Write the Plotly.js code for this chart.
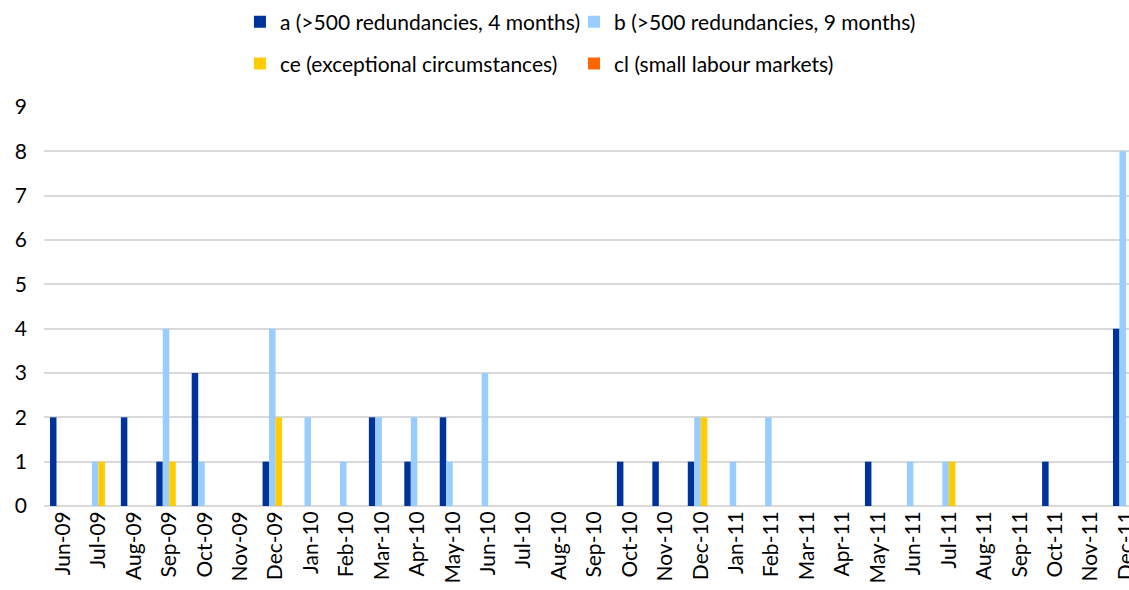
<!DOCTYPE html>
<html>
<head>
<meta charset="utf-8">
<script src="https://cdn.plot.ly/plotly-3.0.1.min.js"></script>
<style>html,body{margin:0;padding:0;background:#fff;}#chart{width:1129px;height:590px;}</style>
</head>
<body>
<div id="chart"></div>
<script>
var months = ["Jun-09","Jul-09","Aug-09","Sep-09","Oct-09","Nov-09","Dec-09","Jan-10","Feb-10","Mar-10","Apr-10","May-10","Jun-10","Jul-10","Aug-10","Sep-10","Oct-10","Nov-10","Dec-10","Jan-11","Feb-11","Mar-11","Apr-11","May-11","Jun-11","Jul-11","Aug-11","Sep-11","Oct-11","Nov-11","Dec-11"];
var seriesA  = [2,0,2,1,3,0,1,0,0,2,1,2,0,0,0,0,1,1,1,0,0,0,0,1,0,0,0,0,1,0,4];
var seriesB  = [0,1,0,4,1,0,4,2,1,2,2,1,3,0,0,0,0,0,2,1,2,0,0,0,1,1,0,0,0,0,8];
var seriesCE = [0,1,0,1,0,0,2,0,0,0,0,0,0,0,0,0,0,0,2,0,0,0,0,0,0,1,0,0,0,0,0];
var seriesCL = [0,0,0,0,0,0,0,0,0,0,0,0,0,0,0,0,0,0,0,0,0,0,0,0,0,0,0,0,0,0,0];
var names = ["a (>500 redundancies, 4 months)","b (>500 redundancies, 9 months)","ce (exceptional circumstances)","cl (small labour markets)"];
var colors = ["#003399","#99ccff","#ffcc00","#ff6600"];
var yTicks = [0,1,2,3,4,5,6,7,8,9];

var FONT = "Lato, 'Liberation Sans', sans-serif";
var vals = [seriesA, seriesB, seriesCE, seriesCL];
var legends = ["legend","legend2","legend3","legend4"];
var traces = vals.map(function(v,i){
  return {type:"bar", x:months, y:v, name:names[i], marker:{color:colors[i], line:{width:0}}, legend:legends[i], hoverinfo:"x+y+name"};
});

function leg(x, y){
  return {orientation:"h", x:x, xanchor:"left", y:y, yanchor:"middle", font:{size:21}, bgcolor:"rgba(0,0,0,0)", borderwidth:0};
}

var layout = {
  width:1129, height:590,
  margin:{l:44, r:0, t:107, b:84},
  paper_bgcolor:"#fff", plot_bgcolor:"#fff",
  font:{family:FONT, size:21, color:"#000"},
  barmode:"group", bargap:0.265, bargroupgap:0,
  xaxis:{type:"category", range:[-0.536, 30.085], tickangle:-90, showgrid:false, zeroline:false, showline:false, ticks:"", tickfont:{size:21}, automargin:false},
  yaxis:{range:[0,9], tickvals:yTicks, showgrid:true, gridcolor:"#d9d9d9", gridwidth:2, zeroline:true, zerolinecolor:"#d9d9d9", zerolinewidth:2, showline:false, ticks:"", ticklabelstandoff:16, tickfont:{size:21}, automargin:false},
  legend:leg(0.1806, 1.213),
  legend2:leg(0.4885, 1.213),
  legend3:leg(0.1806, 1.108),
  legend4:leg(0.4885, 1.108),
  showlegend:true
};
Plotly.newPlot("chart", traces, layout, {displayModeBar:false, staticPlot:true});
</script>
</body>
</html>
